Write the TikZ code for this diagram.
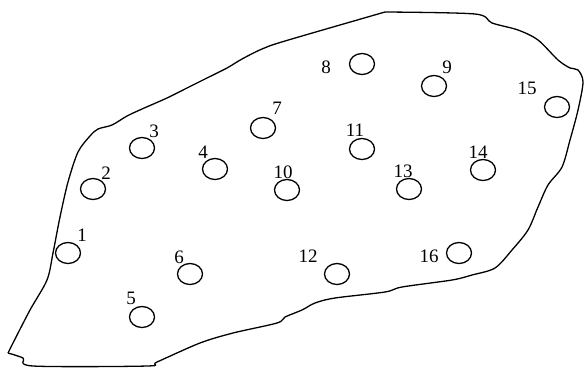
\documentclass[tikz,border=0pt]{standalone}
\usepackage{fontspec}
\setmainfont{Liberation Serif}
\usetikzlibrary{shapes.geometric}
\begin{document}
\begin{tikzpicture}[x=1pt,y=-1pt,
  hole/.style={draw,line width=1.3pt,ellipse,minimum width=25pt,minimum height=21pt,inner sep=0pt},
  num/.style={font=\fontsize{19}{19}\selectfont,inner sep=0pt},
  rim/.style={line width=1.3pt,line join=round}]
\useasboundingbox (0,0) rectangle (585,367);
\draw[rim] plot[smooth,tension=0.5] coordinates {
 (8,353) (13,343) (30,310) (47,280) (53,253) (60,217) (68,182) (78,152)
 (90,136) (98,129) (112,125) (127,116) (142,109) (167,98) (187,88) (207,78)
 (227,68) (242,59) (262,49) (285,41) (385,12)};
\draw[rim] plot[smooth,tension=0.5] coordinates {
 (385,12) (475,14) (492,23) (518,30) (538,40) (558,60) (570,68) (578,70)
 (583,82) (578,110) (570,140) (562,167) (548,185) (538,207) (528,230)
 (512,250) (495,268) (472,275) (452,280) (402,287) (385,292) (335,298)
 (315,303) (302,310) (285,317) (277,323) (233,333) (200,343) (157,362)
 (147,366) (33,366) (23,358) (8,353)};
\node[hole] (c1) at (68,253) {};
\node[hole] (c2) at (93,189) {};
\node[hole] (c3) at (142,148) {};
\node[hole] (c4) at (215,169) {};
\node[hole] (c5) at (142,317) {};
\node[hole] (c6) at (190,274) {};
\node[hole] (c7) at (263,128) {};
\node[hole] (c8) at (362,64) {};
\node[hole] (c9) at (434,86) {};
\node[hole] (c10) at (287,190) {};
\node[hole] (c11) at (362,149) {};
\node[hole] (c12) at (337,274) {};
\node[hole] (c13) at (409,189) {};
\node[hole] (c14) at (483,170) {};
\node[hole] (c15) at (557,107) {};
\node[hole] (c16) at (459,253) {};
\node[num] (n1) at (82,235) {1};
\node[num] (n2) at (106,173) {2};
\node[num] (n3) at (154,131) {3};
\node[num] (n4) at (203,152) {4};
\node[num] (n5) at (131,298) {5};
\node[num] (n6) at (179,257) {6};
\node[num] (n7) at (277,108) {7};
\node[num] (n8) at (326,67) {8};
\node[num] (n9) at (447,67) {9};
\node[num] (n10) at (283,172) {10};
\node[num] (n11) at (355,130) {11};
\node[num] (n12) at (308,256) {12};
\node[num] (n13) at (403,171) {13};
\node[num] (n14) at (478,152) {14};
\node[num] (n15) at (527,88) {15};
\node[num] (n16) at (429,256) {16};
\end{tikzpicture}
\end{document}
